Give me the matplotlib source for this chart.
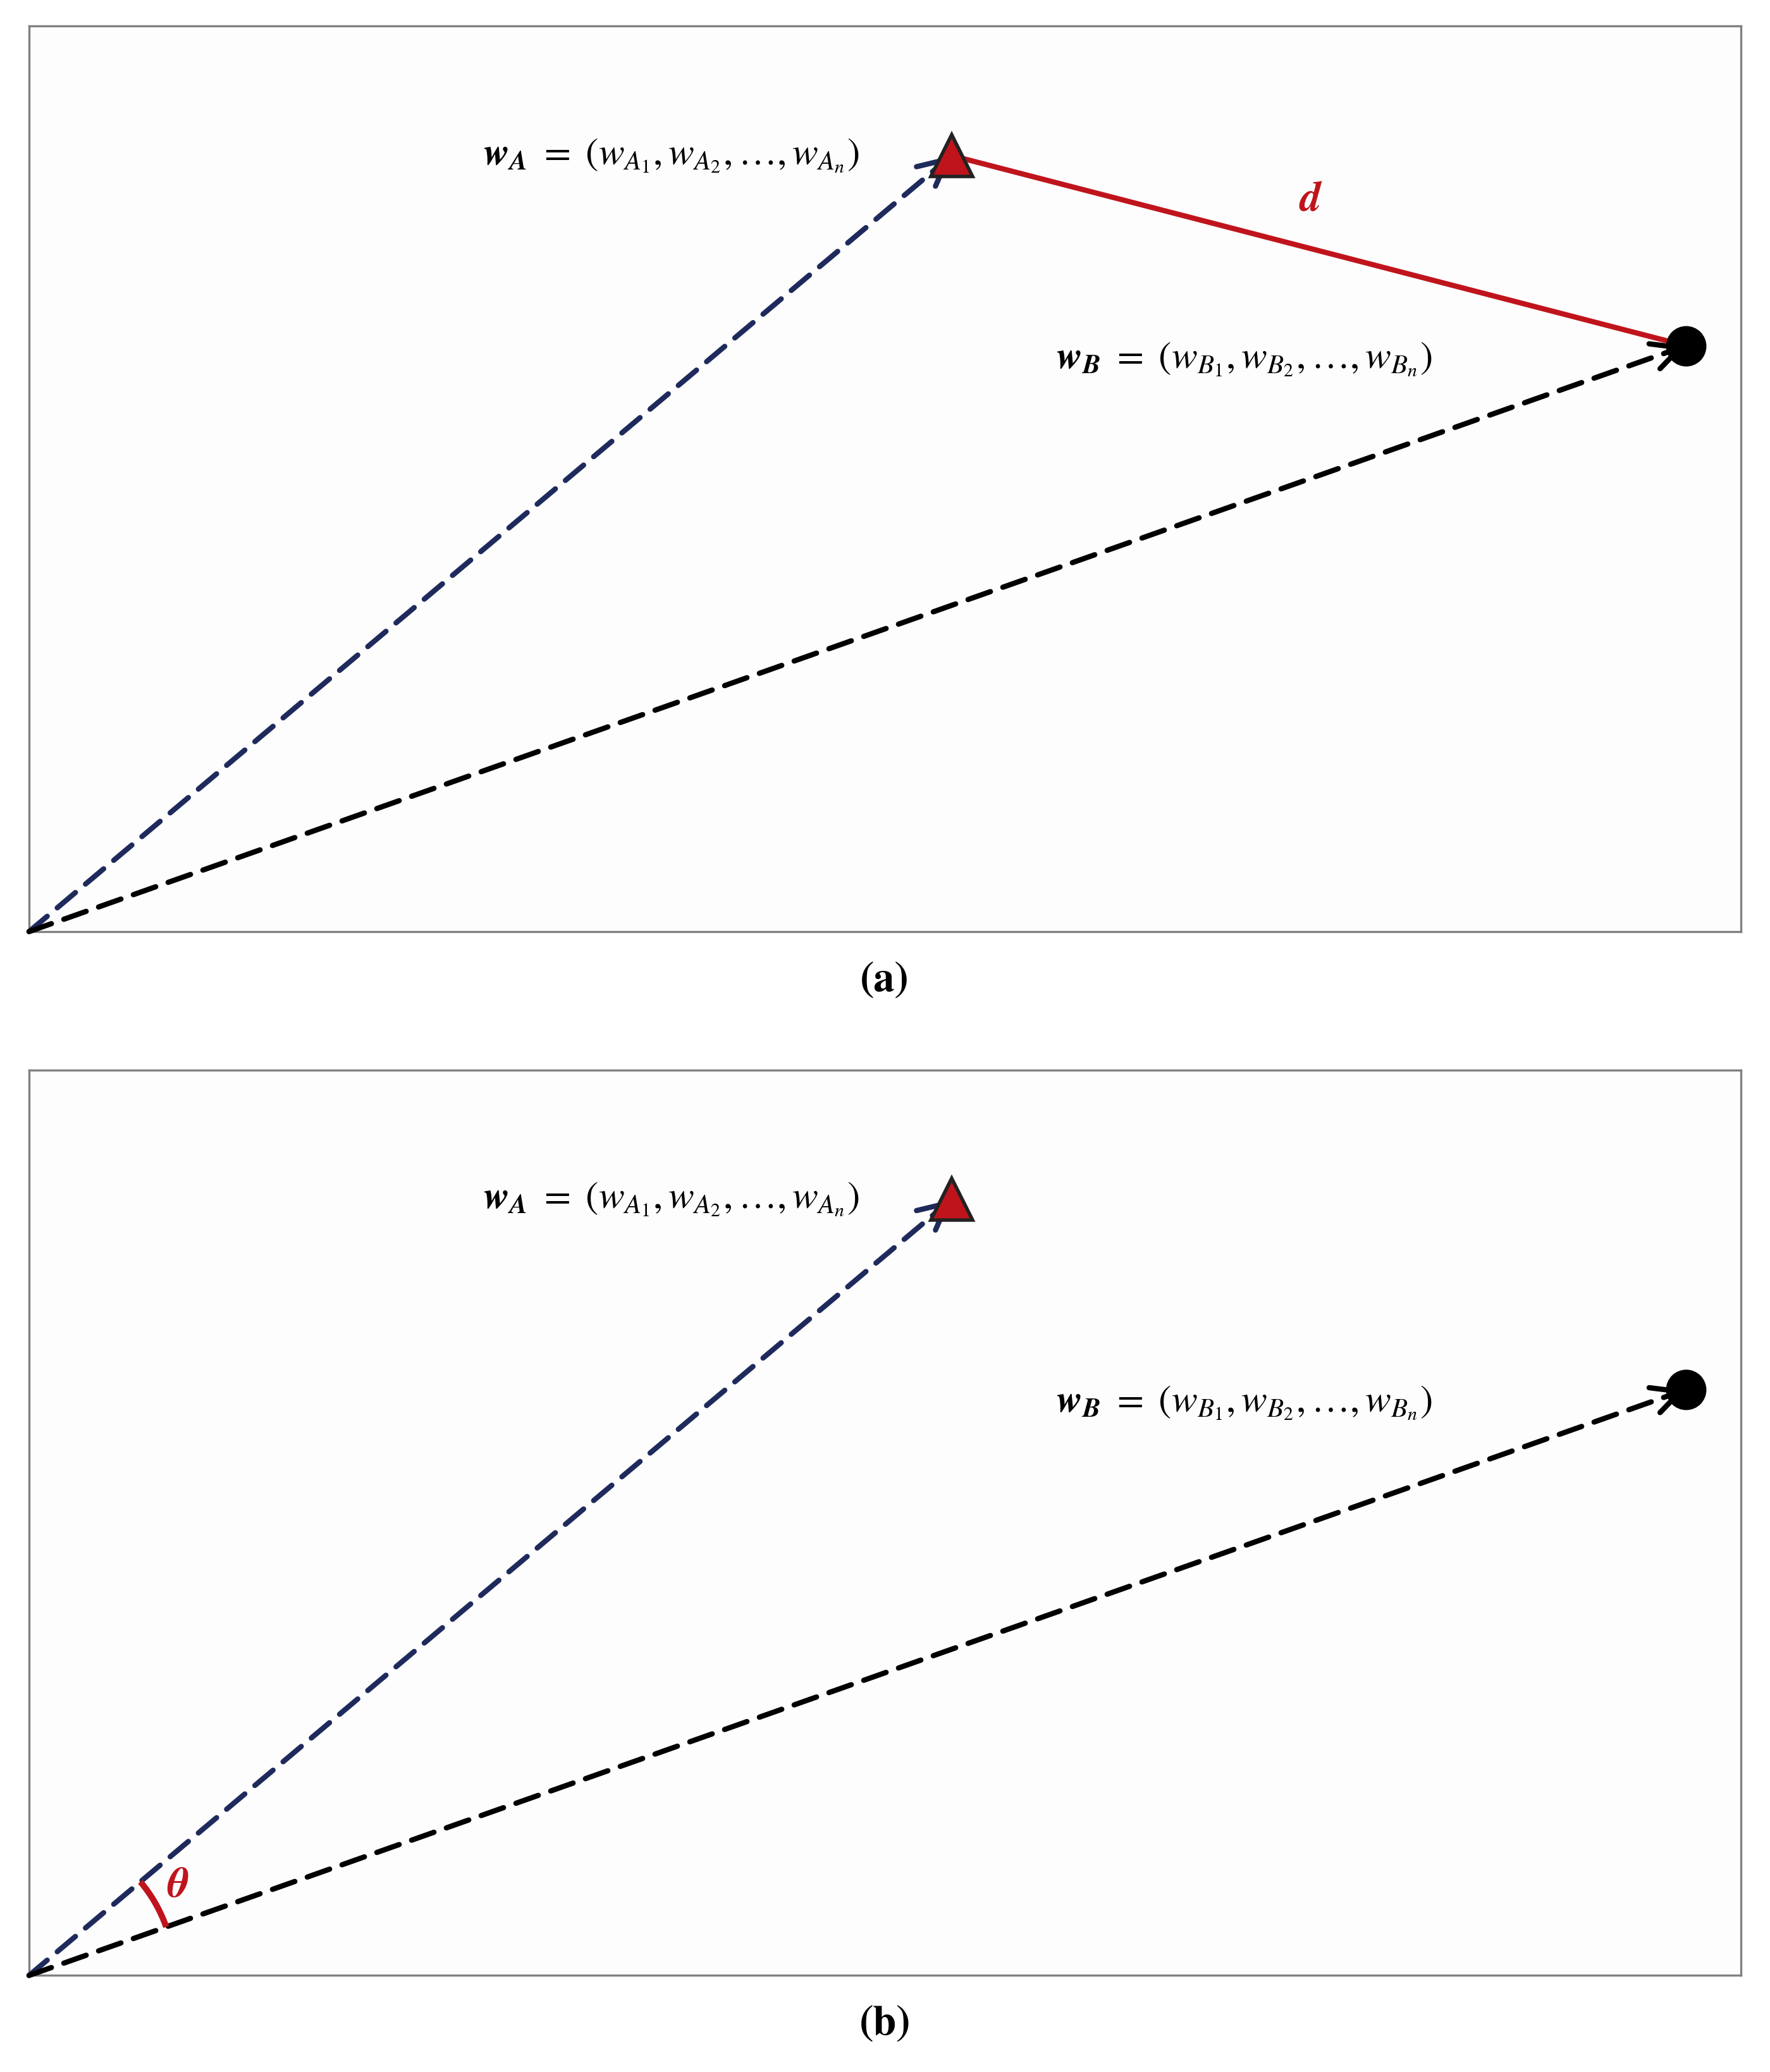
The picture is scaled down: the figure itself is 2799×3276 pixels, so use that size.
import matplotlib.pyplot as plt
from matplotlib.patches import Arc
import numpy as np

plt.rcParams['mathtext.fontset'] = 'stix'
plt.rcParams['font.family'] = 'STIXGeneral'

origin = (0.0, 0.0)
point_a = (0.539, 0.857)
point_b = (0.968, 0.647)
label_a = r'$\mathbfit{w}_{\mathbfit{A}}\ =\ \left(w_{A_1}, w_{A_2}, \ldots, w_{A_n}\right)$'
label_b = r'$\mathbfit{w}_{\mathbfit{B}}\ =\ \left(w_{B_1}, w_{B_2}, \ldots, w_{B_n}\right)$'
panels = ['(a)', '(b)']

navy = '#1f2a5c'
red = '#c0141c'

fig = plt.figure(figsize=(13.995, 16.38), dpi=200)
fig.patch.set_facecolor('white')
axes = [fig.add_axes([0.0164, 0.5504, 0.967, 0.437]),
        fig.add_axes([0.0164, 0.0466, 0.967, 0.437])]

for i, ax in enumerate(axes):
    ax.set_xlim(0, 1)
    ax.set_ylim(0, 1)
    ax.set_xticks([])
    ax.set_yticks([])
    ax.set_facecolor('#fdfdfd')
    for s in ax.spines.values():
        s.set_color('#808080')
        s.set_linewidth(1.2)

    for pt, col in [(point_a, navy), (point_b, 'black')]:
        ax.annotate('', xy=pt, xytext=origin,
                    arrowprops=dict(arrowstyle='->', color=col, lw=3,
                                    linestyle=(0, (4.5, 2.5)), mutation_scale=40,
                                    shrinkA=0, shrinkB=0))
    ax.plot(*point_a, marker='^', ms=24, mfc=red, mec='#222222', mew=2, zorder=5)
    ax.plot(*point_b, marker='o', ms=22, color='black', zorder=5)

    ax.text(0.485, point_a[1], label_a, fontsize=22, ha='right', va='center')
    ax.text(0.600, 0.632, label_b, fontsize=22, ha='left', va='center')

    if i == 0:
        ax.plot([point_a[0], point_b[0]], [point_a[1], point_b[1]], color=red, lw=3, zorder=4)
        ax.text(0.749, 0.807, r'$\mathbfit{d}$', color=red, fontsize=24, ha='center', va='center')
    else:
        ang_a = np.degrees(np.arctan2(point_a[1], point_a[0]))
        ang_b = np.degrees(np.arctan2(point_b[1], point_b[0]))
        ax.add_patch(Arc(origin, 0.17, 0.17 * 1296 / 685, theta1=ang_b, theta2=ang_a,
                         color=red, lw=3.5, zorder=6))
        ax.text(0.087, 0.098, r'$\mathbfit{\theta}$', color=red, fontsize=24, ha='center', va='center')

    ax.text(0.5, -0.055, panels[i], transform=ax.transAxes, fontsize=24,
            fontweight='bold', ha='center', va='center')

fig.savefig('out.png', dpi=200)
